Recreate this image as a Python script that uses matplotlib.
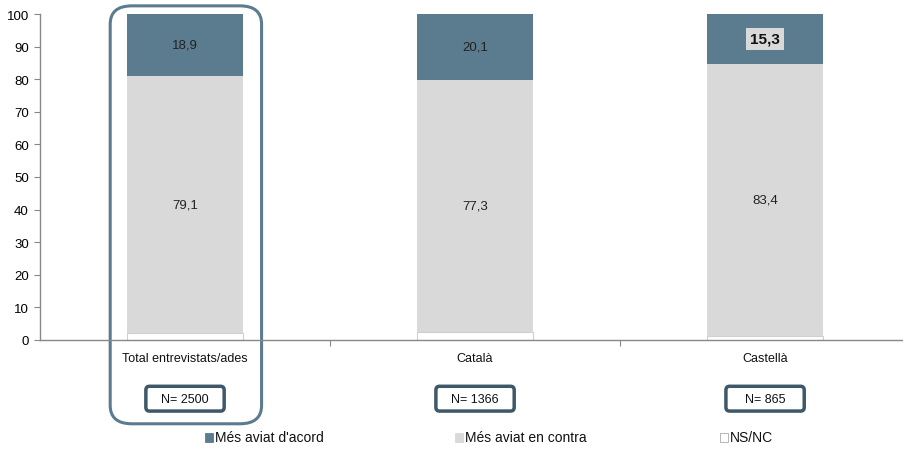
import matplotlib
matplotlib.use('Agg')
import matplotlib.pyplot as plt
from matplotlib.patches import FancyBboxPatch, Rectangle

plt.rcParams['font.family'] = ['Liberation Sans', 'DejaVu Sans']

categories = ['Total entrevistats/ades', 'Català', 'Castellà']
sizes = ['N= 2500', 'N= 1366', 'N= 865']
nsnc = [2.0, 2.6, 1.3]
en_contra = [79.1, 77.3, 83.4]
acord = [18.9, 20.1, 15.3]
series_names = ["Més aviat d'acord", 'Més aviat en contra', 'NS/NC']

c_acord = '#5B7C8F'
c_contra = '#D9D9D9'
c_nsnc = '#FFFFFF'
c_box = '#3E5868'

fig = plt.figure(figsize=(9.04, 4.52), dpi=100)
ax = fig.add_axes([40 / 904, 1 - 341 / 452, 864 / 904, 326 / 452])

x = range(len(categories))
w = 0.40
ax.bar(x, nsnc, w, color=c_nsnc, edgecolor='#D0D0D0', linewidth=0.8, zorder=2)
ax.bar(x, en_contra, w, bottom=nsnc, color=c_contra, zorder=2)
bot2 = [a + b for a, b in zip(nsnc, en_contra)]
ax.bar(x, acord, w, bottom=bot2, color=c_acord, zorder=2)

for i in x:
    ax.text(i, nsnc[i] + en_contra[i] / 2, f'{en_contra[i]:.1f}'.replace('.', ','),
            ha='center', va='center', fontsize=9.5, color='#222222')
    lbl = f'{acord[i]:.1f}'.replace('.', ',')
    if i == 2:
        ax.text(i, bot2[i] + acord[i] / 2, lbl, ha='center', va='center',
                fontsize=11, fontweight='bold', color='#111111',
                bbox=dict(boxstyle='square,pad=0.25', facecolor='#D9D9D9', edgecolor='none'))
    else:
        ax.text(i, bot2[i] + acord[i] / 2, lbl, ha='center', va='center',
                fontsize=9.5, color='#222222')

ax.set_ylim(0, 100)
ax.set_xlim(-0.5, 2.479)
ax.set_yticks(range(0, 101, 10))
ax.tick_params(axis='y', labelsize=9.5, length=4, color='#888888', direction='out', pad=4)
ax.set_xticks([0.5, 1.5])
ax.set_xticklabels([])
ax.tick_params(axis='x', length=4, color='#888888', direction='out')
for s in ['top', 'right']:
    ax.spines[s].set_visible(False)
for s in ['left', 'bottom']:
    ax.spines[s].set_color('#888888')
    ax.spines[s].set_linewidth(1.0)

# category labels and N boxes (axes-data x, figure y)
trans = ax.get_xaxis_transform()
for i in x:
    ax.text(i, -0.055, categories[i], transform=trans, ha='center', va='center',
            fontsize=9, color='#111111')
    ax.text(i, -0.18, sizes[i], transform=trans, ha='center', va='center',
            fontsize=9, color='#111111')
    box = FancyBboxPatch((i - 0.135, -0.218), 0.27, 0.076, transform=trans,
                         boxstyle='round,pad=0,rounding_size=0.012',
                         facecolor='none', edgecolor=c_box, linewidth=2.5, clip_on=False)
    ax.add_patch(box)

# highlight frame around first category
hl = FancyBboxPatch((-0.258, -0.257), 0.522, 1.282, transform=trans,
                    boxstyle='round,pad=0,rounding_size=0.075',
                    facecolor='none', edgecolor=c_acord, linewidth=2.2, clip_on=False,
                    mutation_aspect=0.75)
ax.add_patch(hl)

# legend
leg_x = [205, 455, 720]
leg_c = [c_acord, c_contra, c_nsnc]
for lx, col, name in zip(leg_x, leg_c, series_names):
    fig.patches.append(Rectangle((lx / 904, 1 - 443 / 452), 8 / 904, 9 / 452,
                                 transform=fig.transFigure, facecolor=col,
                                 edgecolor='#AAAAAA' if col == c_nsnc else col, linewidth=0.6))
    fig.text((lx + 10) / 904, 1 - 438 / 452, name, ha='left', va='center',
             fontsize=10, color='#111111')

fig.savefig('out.png', dpi=100)
